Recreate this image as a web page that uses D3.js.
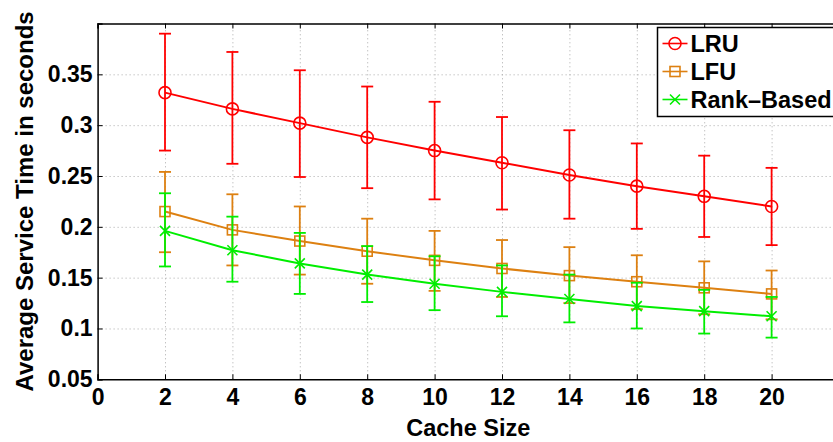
<!DOCTYPE html>
<html>
<head>
<meta charset="utf-8">
<script src="https://cdn.jsdelivr.net/npm/d3@7"></script>
<style>
  body { margin: 0; background: #fff; }
  svg { display: block; font-family: "Liberation Sans", Arial, Helvetica, sans-serif; font-weight: bold; }
</style>
</head>
<body>
<div id="chart"></div>
<script>
// chart values
const cacheSizes = [2, 4, 6, 8, 10, 12, 14, 16, 18, 20];

const lruMean  = [0.332, 0.316, 0.302, 0.288, 0.275, 0.263, 0.251, 0.240, 0.230, 0.220];
const lruUpper = [0.390, 0.372, 0.354, 0.338, 0.323, 0.308, 0.295, 0.282, 0.270, 0.258];
const lruLower = [0.275, 0.262, 0.249, 0.238, 0.227, 0.217, 0.208, 0.198, 0.190, 0.182];

const lfuMean  = [0.215, 0.197, 0.186, 0.176, 0.167, 0.159, 0.152, 0.146, 0.140, 0.134];
const lfuUpper = [0.254, 0.232, 0.220, 0.208, 0.196, 0.187, 0.180, 0.172, 0.166, 0.157];
const lfuLower = [0.175, 0.162, 0.153, 0.144, 0.137, 0.131, 0.125, 0.119, 0.114, 0.109];

const rankMean  = [0.196, 0.177, 0.164, 0.153, 0.144, 0.136, 0.129, 0.122, 0.117, 0.112];
const rankUpper = [0.233, 0.210, 0.194, 0.181, 0.171, 0.162, 0.153, 0.145, 0.138, 0.131];
const rankLower = [0.161, 0.146, 0.134, 0.126, 0.118, 0.112, 0.106, 0.100, 0.095, 0.091];

const seriesNames = ["LRU", "LFU", "Rank\u2013Based"];
const xTicks = [0, 2, 4, 6, 8, 10, 12, 14, 16, 18, 20];
const yTicks = [0.05, 0.1, 0.15, 0.2, 0.25, 0.3, 0.35];

const W = 833, H = 442;
const margin = { left: 97.6, top: 23.5, right: -6, bottom: 62.7 };
const plotW = W - margin.left - margin.right;
const plotH = H - margin.top - margin.bottom;

const colours = ["#ff0000", "#dd8011", "#00ee00"];
const markers = ["circle", "square", "cross"];

const series = [
    { name: seriesNames[0], mean: lruMean, hi: lruUpper, lo: lruLower },
    { name: seriesNames[1], mean: lfuMean, hi: lfuUpper, lo: lfuLower },
    { name: seriesNames[2], mean: rankMean, hi: rankUpper, lo: rankLower }
];

const x = d3.scaleLinear().domain([0, 22]).range([0, plotW]);
const y = d3.scaleLinear().domain([0.05, 0.4]).range([plotH, 0]);

const svg = d3.select("#chart").append("svg")
    .attr("width", W)
    .attr("height", H);

const g = svg.append("g").attr("transform", `translate(${margin.left},${margin.top})`);

// dotted grid
g.append("g")
    .attr("class", "grid")
    .attr("transform", `translate(0,${plotH})`)
    .call(d3.axisBottom(x).tickValues(xTicks.slice(1)).tickSize(-plotH).tickFormat(""))
    .call(s => s.select(".domain").remove());
g.append("g")
    .attr("class", "grid")
    .call(d3.axisLeft(y).tickValues(yTicks.slice(1)).tickSize(-plotW).tickFormat(""))
    .call(s => s.select(".domain").remove());
g.selectAll(".grid line")
    .attr("stroke", "#aaa")
    .attr("stroke-width", 1)
    .attr("stroke-dasharray", "1,3");

// axes with inward ticks, on all four sides
const xAxis = g.append("g")
    .attr("transform", `translate(0,${plotH})`)
    .call(d3.axisBottom(x).tickValues(xTicks).tickSize(-5).tickPadding(9).tickFormat(d3.format("d")));
const yAxis = g.append("g")
    .call(d3.axisLeft(y).tickValues(yTicks).tickSize(-5).tickPadding(5).tickFormat(d => String(+d.toFixed(2))));
g.append("g")
    .call(d3.axisTop(x).tickValues(xTicks).tickSize(-5).tickFormat(""));
g.append("g")
    .attr("transform", `translate(${plotW},0)`)
    .call(d3.axisRight(y).tickValues(yTicks).tickSize(-5).tickFormat(""));

g.selectAll(".domain").attr("stroke", "#000").attr("stroke-width", 1.5);
[xAxis, yAxis].forEach(a => a.selectAll("text")
    .attr("fill", "#000")
    .style("font-size", "23px")
    .style("font-weight", "bold"));

// axis titles
svg.append("text")
    .attr("x", margin.left + plotW / 2)
    .attr("y", 436)
    .attr("text-anchor", "middle")
    .style("font-size", "23.5px")
    .text("Cache Size");
svg.append("text")
    .attr("transform", `translate(33,${margin.top + plotH / 2}) rotate(-90)`)
    .attr("text-anchor", "middle")
    .style("font-size", "24px")
    .text("Average Service Time in seconds");

// marker drawing helper
function drawMarker(sel, type, colour) {
    if (type === "circle") {
        sel.append("circle").attr("r", 6)
            .attr("fill", "none").attr("stroke", colour).attr("stroke-width", 1.6);
    } else if (type === "square") {
        sel.append("rect").attr("x", -5).attr("y", -5).attr("width", 10).attr("height", 10)
            .attr("fill", "none").attr("stroke", colour).attr("stroke-width", 1.6);
    } else {
        sel.append("path").attr("d", "M-5,-5L5,5M-5,5L5,-5")
            .attr("fill", "none").attr("stroke", colour).attr("stroke-width", 1.6);
    }
}

const line = d3.line().x(d => x(d.x)).y(d => y(d.v));

series.forEach((s, i) => {
    const colour = colours[i];
    const pts = cacheSizes.map((c, k) => ({ x: c, v: s.mean[k], hi: s.hi[k], lo: s.lo[k] }));
    const sg = g.append("g");

    // error bars
    const eb = sg.selectAll(".eb").data(pts).enter().append("g")
        .attr("stroke", colour).attr("stroke-width", 1.8);
    eb.append("line")
        .attr("x1", d => x(d.x)).attr("x2", d => x(d.x))
        .attr("y1", d => y(d.hi)).attr("y2", d => y(d.lo));
    eb.append("line")
        .attr("x1", d => x(d.x) - 6).attr("x2", d => x(d.x) + 6)
        .attr("y1", d => y(d.hi)).attr("y2", d => y(d.hi));
    eb.append("line")
        .attr("x1", d => x(d.x) - 6).attr("x2", d => x(d.x) + 6)
        .attr("y1", d => y(d.lo)).attr("y2", d => y(d.lo));

    sg.append("path").datum(pts)
        .attr("d", line)
        .attr("fill", "none")
        .attr("stroke", colour)
        .attr("stroke-width", 2);

    sg.selectAll(".mk").data(pts).enter().append("g")
        .attr("transform", d => `translate(${x(d.x)},${y(d.v)})`)
        .each(function () { drawMarker(d3.select(this), markers[i], colour); });
});

// legend
const lg = svg.append("g").attr("transform", "translate(657.5,27.5)");
lg.append("rect")
    .attr("width", 190).attr("height", 89)
    .attr("fill", "#fff").attr("stroke", "#000").attr("stroke-width", 1.5);
series.forEach((s, i) => {
    const row = lg.append("g").attr("transform", `translate(0,${16 + i * 28})`);
    row.append("line").attr("x1", 5).attr("x2", 30).attr("y1", 0).attr("y2", 0)
        .attr("stroke", colours[i]).attr("stroke-width", 1.6);
    const m = row.append("g").attr("transform", "translate(17.5,0)");
    drawMarker(m, markers[i], colours[i]);
    row.append("text")
        .attr("x", 33).attr("y", 0).attr("dy", "0.36em")
        .style("font-size", "23.5px")
        .text(s.name);
});
</script>
</body>
</html>
